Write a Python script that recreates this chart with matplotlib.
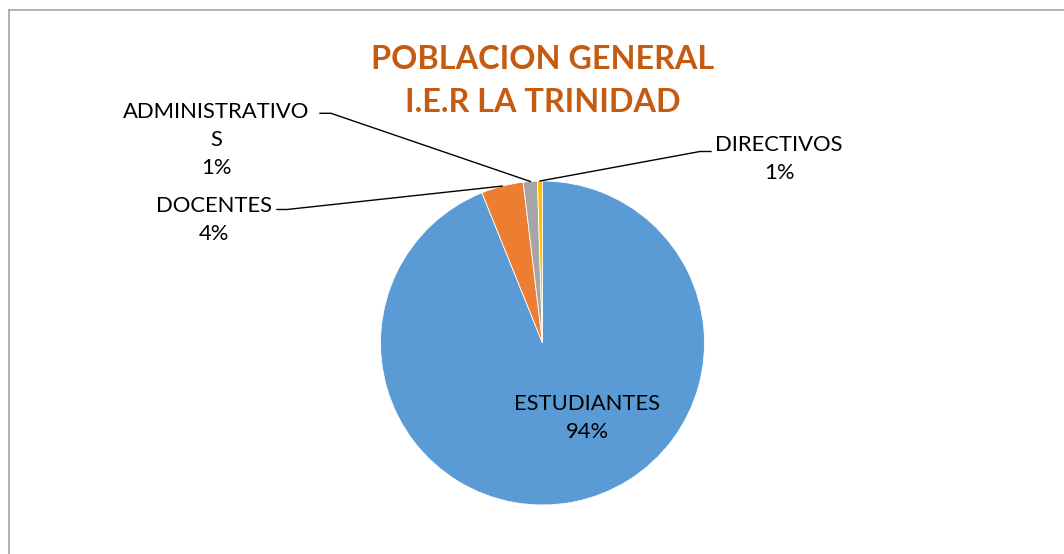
import numpy as np
import matplotlib
matplotlib.use("Agg")
import matplotlib.pyplot as plt

# ---- data ----
categories = ["ESTUDIANTES", "DOCENTES", "ADMINISTRATIVOS", "DIRECTIVOS"]
values = [93.9, 4.2, 1.4, 0.5]
pct_labels = ["94%", "4%", "1%", "1%"]
label_texts = ["ESTUDIANTES", "DOCENTES", "ADMINISTRATIVO\nS", "DIRECTIVOS"]
colors = ["#5B9BD5", "#ED7D31", "#A5A5A5", "#FFC000"]
title = "POBLACION GENERAL\nI.E.R LA TRINIDAD"

W, H = 1064, 554
fig = plt.figure(figsize=(W / 100, H / 100), dpi=100)
ax = fig.add_axes([0, 0, 1, 1])

def py(y):  # pixel-from-top to data y
    return H - y

cx, cy, R = 542.5, py(343), 162
wedges, _ = ax.pie(values, colors=colors, startangle=90, counterclock=False,
                   center=(cx, cy), radius=R, frame=True,
                   wedgeprops=dict(edgecolor="white", linewidth=0.6))
ax.set_xlim(0, W)
ax.set_ylim(0, H)
ax.set_aspect("equal")
ax.axis("off")

font = "Lato"
fs_lab = 15.8
ls_lab = 1.5

def anchor(w, frac=1.0):
    ang = np.deg2rad((w.theta1 + w.theta2) / 2)
    return cx + R * frac * np.cos(ang), cy + R * frac * np.sin(ang)

# ESTUDIANTES inside label
ax.text(587, py(418.5), f"{label_texts[0]}\n{pct_labels[0]}", ha="center", va="center",
        fontsize=fs_lab, family=font, color="#000000", linespacing=ls_lab)

# DOCENTES
ax.text(214, py(220), f"{label_texts[1]}\n{pct_labels[1]}", ha="center", va="center",
        fontsize=fs_lab, family=font, color="#000000", linespacing=ls_lab)
axp, ayp = anchor(wedges[1])
ax.plot([277, 287, axp], [py(209.5), py(209.5), ayp], color="black", lw=1)

# ADMINISTRATIVOS
ax.text(216, py(140), f"{label_texts[2]}\n{pct_labels[2]}", ha="center", va="center",
        fontsize=fs_lab, family=font, color="#000000", linespacing=ls_lab)
axp, ayp = anchor(wedges[2])
ax.plot([320, 331, axp], [py(113.3), py(113.3), ayp], color="black", lw=1)

# DIRECTIVOS
ax.text(779, py(159), f"{label_texts[3]}\n{pct_labels[3]}", ha="center", va="center",
        fontsize=fs_lab, family=font, color="#000000", linespacing=ls_lab)
axp, ayp = anchor(wedges[3])
ax.plot([axp, 700, 711], [ayp, py(151.5), py(151.5)], color="black", lw=1)

# title
ax.text(543, py(81), title, ha="center", va="center", fontsize=23.3, family=font,
        fontweight="bold", color="#C55A11", linespacing=1.62)

# chart frame (top & left visible)
ax.plot([8.5, W + 5], [py(10), py(10)], color="#A6A6A6", lw=1.2, clip_on=False)
ax.plot([8.5, 8.5], [py(10), -5], color="#A6A6A6", lw=1.2, clip_on=False)

fig.savefig("out.png", dpi=100, facecolor="white")
